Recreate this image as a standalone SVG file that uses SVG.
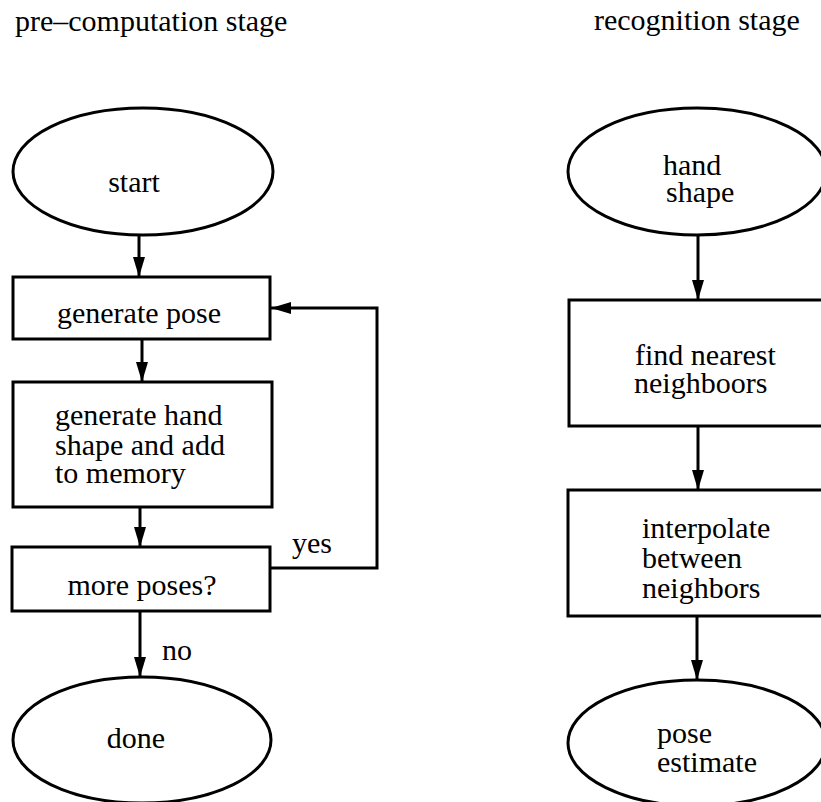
<svg xmlns="http://www.w3.org/2000/svg" width="821" height="802" viewBox="0 0 821 802">
<style>
.s{fill:#fff;stroke:#000;stroke-width:3}
.c{fill:none;stroke:#000;stroke-width:3}
text{font-family:"Liberation Serif","Times New Roman",serif;font-size:30px;fill:#000}
.m{text-anchor:middle}
</style>
<defs>
<marker id="ah" markerWidth="20" markerHeight="12" refX="20" refY="6" orient="auto" markerUnits="userSpaceOnUse">
<path d="M0,0 L20,6 L0,12 Z" fill="#000"/>
</marker>
</defs>
<rect width="821" height="802" fill="#fff"/>
<text x="15" y="31">pre–computation stage</text>
<text x="594" y="30">recognition stage</text>
<g id="connectors">
<line class="c" x1="139" y1="235" x2="139" y2="277" marker-end="url(#ah)"/>
<line class="c" x1="142" y1="339" x2="142" y2="382" marker-end="url(#ah)"/>
<line class="c" x1="140" y1="507" x2="140" y2="547" marker-end="url(#ah)"/>
<line class="c" x1="140" y1="611" x2="140" y2="677" marker-end="url(#ah)"/>
<polyline class="c" points="270,568 377,568 377,308 271,308" marker-end="url(#ah)"/>
<text x="292" y="553">yes</text>
<text x="162" y="660">no</text>
<line class="c" x1="698" y1="235" x2="698" y2="300" marker-end="url(#ah)"/>
<line class="c" x1="698" y1="426" x2="698" y2="490" marker-end="url(#ah)"/>
<line class="c" x1="697" y1="616" x2="697" y2="680" marker-end="url(#ah)"/>
</g>
<g id="start">
<ellipse class="s" cx="143" cy="171.5" rx="130" ry="63.5"/>
<text class="m" x="134" y="192">start</text>
</g>
<g id="generate-pose">
<rect class="s" x="13" y="277" width="257" height="62"/>
<text class="m" x="139" y="323">generate pose</text>
</g>
<g id="generate-hand-shape">
<rect class="s" x="13" y="382" width="259" height="125"/>
<text x="55" y="425">generate hand</text>
<text x="55" y="455">shape and add</text>
<text x="55" y="483">to memory</text>
</g>
<g id="more-poses">
<rect class="s" x="12" y="547" width="258" height="64"/>
<text class="m" x="142" y="595">more poses?</text>
</g>
<g id="done">
<ellipse class="s" cx="142" cy="740" rx="129" ry="63"/>
<text class="m" x="136" y="748">done</text>
</g>
<g id="hand-shape">
<ellipse class="s" cx="697" cy="171.5" rx="129" ry="63.5"/>
<text x="663" y="175">hand</text>
<text x="666" y="202">shape</text>
</g>
<g id="find-nearest">
<rect class="s" x="569" y="300" width="262" height="126"/>
<text x="635" y="365">find nearest</text>
<text x="634" y="393">neighboors</text>
</g>
<g id="interpolate">
<rect class="s" x="568" y="490" width="262" height="126"/>
<text x="642" y="538">interpolate</text>
<text x="642" y="568">between</text>
<text x="642" y="598">neighbors</text>
</g>
<g id="pose-estimate">
<ellipse class="s" cx="697" cy="743" rx="129" ry="63"/>
<text x="657" y="743">pose</text>
<text x="657" y="772">estimate</text>
</g>
</svg>
